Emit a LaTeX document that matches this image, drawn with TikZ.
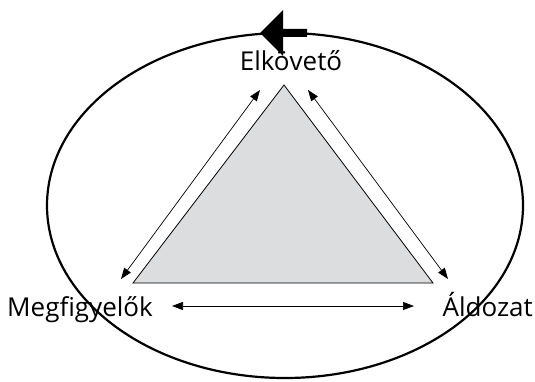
\documentclass[tikz,border=0pt]{standalone}
\usepackage{fontspec}
\setmainfont{Open Sans}
\usetikzlibrary{arrows.meta}
\definecolor{haromszog}{RGB}{220,221,223}

\begin{document}
\begin{tikzpicture}[x=1pt,y=-1pt, felirat/.style={font=\fontsize{26}{26}\selectfont, inner sep=0pt}]
        \useasboundingbox (0,0) rectangle (535,382); %keret
        \draw[line width=2.2pt](285,205.5) ellipse [x radius=238, y radius=172.5]; %ellipszis
        \fill(260,33)--(283,10)--(283,29)--(307,29)--(307,37)--(283,37)--(283,56)--cycle; %nagy nyil

        \coordinate (csucs) at (284,85);
        \coordinate (bal) at (133,283);
        \coordinate (jobb) at (433,283);
        \filldraw[fill=haromszog, line width=0.8pt](csucs)--(bal)--(jobb)--cycle; %haromszog

        \node[felirat, anchor=base] (elkoveto) at (291,71) {Elkövető};
        \node[felirat, anchor=base west] (megfigyelok) at (7,316) {Megfigyelők};
        \node[felirat, anchor=base east] (aldozat) at (533,316) {Áldozat};

        \coordinate (b1) at (121,279); \coordinate (b2) at (260,90);
        \coordinate (j1) at (308,90); \coordinate (j2) at (448,279);
        \coordinate (v1) at (172,306); \coordinate (v2) at (414,306);
        \draw[<->,> ={Triangle[length=11pt,width=8pt]}, line width=0.7pt](b1)--(b2); %bal oldal
        \draw[<->,> ={Triangle[length=11pt,width=8pt]}, line width=0.7pt](j1)--(j2); %jobb oldal
        \draw[<->,> ={Triangle[length=11pt,width=8pt]}, line width=0.7pt](v1)--(v2); %also
\end{tikzpicture}
\end{document}
